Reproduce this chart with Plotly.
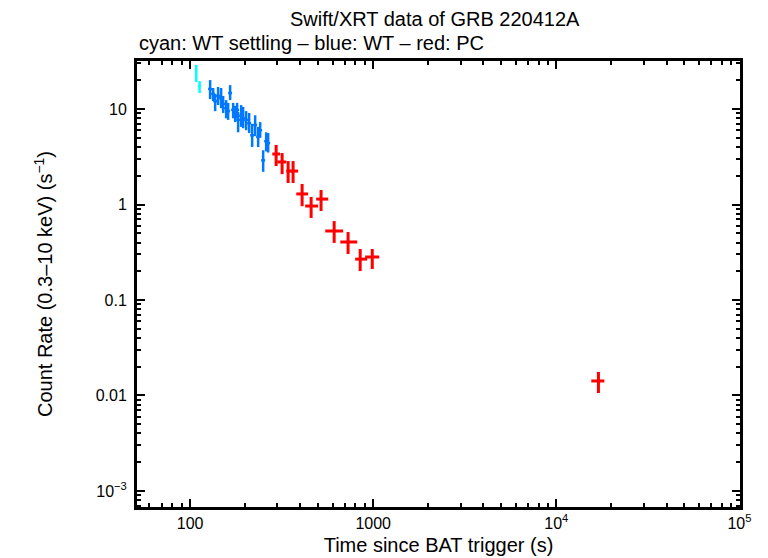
import plotly.graph_objects as go

# cyan: WT settling
wts_t = [108.0, 112.7]
wts_tlo = [106.5, 110.5]
wts_thi = [109.5, 114.8]
wts_r = [24.4, 17.4]
wts_rlo = [19.2, 14.7]
wts_rhi = [28.9, 19.6]

# blue: WT
wt_t = [128.6, 133.6, 137.0, 142.2, 147.7, 151.5, 157.3, 161.3, 165.4, 171.8, 176.2, 180.6,
        182.9, 190.0, 194.8, 202.3, 210.1, 218.2, 226.6, 235.3, 241.3, 250.6, 260.2, 266.8]
wt_r = [16.2, 14.4, 12.1, 13.7, 13.0, 11.3, 10.2, 9.5, 14.7, 9.8, 8.9, 9.8,
        7.7, 8.5, 8.0, 7.7, 7.1, 5.3, 6.8, 5.1, 6.0, 2.9, 4.6, 4.4]
wt_rlo = [12.7, 12.1, 9.5, 11.0, 10.2, 9.1, 8.0, 7.7, 12.4, 8.0, 7.3, 8.0,
          5.7, 6.5, 6.3, 6.0, 5.6, 4.0, 5.2, 4.0, 5.0, 2.2, 3.6, 3.5]
wt_rhi = [20.1, 16.6, 14.4, 17.0, 16.6, 13.7, 12.4, 11.6, 17.8, 11.6, 10.8, 11.6,
          9.3, 11.0, 10.5, 9.5, 9.1, 7.0, 8.6, 6.5, 7.3, 3.7, 5.7, 5.6]
wt_dt = 0.025  # fractional half-width of the time bins

# red: PC
pc_t = [295, 318, 343, 365, 409, 458, 519, 612, 729, 849, 988, 16980]
pc_tlo = [281, 299, 335, 352, 380, 425, 488, 547, 661, 797, 904, 15520]
pc_thi = [310, 335, 356, 389, 441, 500, 568, 685, 818, 927, 1079, 18290]
pc_r = [3.38, 2.79, 2.24, 2.24, 1.29, 0.964, 1.14, 0.528, 0.405, 0.268, 0.282, 0.01419]
pc_rlo = [2.53, 2.08, 1.68, 1.68, 0.96, 0.723, 0.855, 0.396, 0.303, 0.201, 0.211, 0.01062]
pc_rhi = [4.20, 3.46, 2.85, 2.85, 1.64, 1.20, 1.42, 0.671, 0.515, 0.342, 0.342, 0.01762]

x_ticks = [100, 1000, 1e4, 1e5]
x_text = ["100", "1000", "10<sup>4</sup>", "10<sup>5</sup>"]
y_ticks = [1e-3, 0.01, 0.1, 1, 10]
y_text = ["10<sup>\u22123</sup>", "0.01", "0.1", "1", "10"]


def err_trace(t, tlo, thi, r, rlo, rhi, color, thick):
    return go.Scatter(
        x=t, y=r, mode="markers", marker=dict(size=1, color=color),
        error_x=dict(type="data", symmetric=False,
                     array=[h - v for h, v in zip(thi, t)],
                     arrayminus=[v - l for v, l in zip(t, tlo)],
                     color=color, thickness=thick, width=0),
        error_y=dict(type="data", symmetric=False,
                     array=[h - v for h, v in zip(rhi, r)],
                     arrayminus=[v - l for v, l in zip(r, rlo)],
                     color=color, thickness=thick, width=0),
        showlegend=False, hoverinfo="x+y")


fig = go.Figure()
fig.add_trace(err_trace(wt_t, [v * (1 - wt_dt) for v in wt_t], [v * (1 + wt_dt) for v in wt_t],
                        wt_r, wt_rlo, wt_rhi, "rgb(0,120,255)", 2.5))
fig.add_trace(err_trace(wts_t, wts_tlo, wts_thi, wts_r, wts_rlo, wts_rhi, "rgb(0,255,255)", 2.5))
fig.add_trace(err_trace(pc_t, pc_tlo, pc_thi, pc_r, pc_rlo, pc_rhi, "rgb(255,0,0)", 3))

font_name = "Liberation Sans, Arial, sans-serif"
tick_font = dict(family=font_name, size=16, color="black")
minor_ticks = dict(ticks="inside", ticklen=4, tickwidth=2, tickcolor="black",
                   dtick="D1", showgrid=False)

fig.update_xaxes(type="log", range=[1.71, 5.003], tickvals=x_ticks, ticktext=x_text,
                 ticks="inside", ticklen=8, tickwidth=2, tickcolor="black", minor=minor_ticks,
                 showline=True, linewidth=3, linecolor="black", mirror="allticks",
                 showgrid=False, zeroline=False, tickfont=tick_font, automargin=False,
                 title=dict(text="Time since BAT trigger (s)", font=dict(size=20), standoff=7))
fig.update_yaxes(type="log", range=[-3.168, 1.503], tickvals=y_ticks, ticktext=y_text,
                 ticks="inside", ticklen=8, tickwidth=2, tickcolor="black", minor=minor_ticks,
                 showline=True, linewidth=3, linecolor="black", mirror="allticks",
                 showgrid=False, zeroline=False, tickfont=tick_font, ticklabelstandoff=4,
                 automargin=False,
                 title=dict(text="Count Rate (0.3\u201310 keV) (s<sup>\u22121</sup>)",
                            font=dict(size=20), standoff=38))

fig.add_annotation(text="Swift/XRT data of GRB 220412A", xref="paper", yref="paper",
                   x=0.25, y=1.0, yshift=42, yanchor="middle", showarrow=False,
                   xanchor="left", font=dict(size=20))
fig.add_annotation(text="cyan: WT settling \u2013 blue: WT \u2013 red: PC", xref="paper",
                   yref="paper", x=0.0, y=1.0, yshift=18, yanchor="middle", showarrow=False,
                   xanchor="left", font=dict(size=20))

# the page adds an 8px body margin, so the figure is shrunk by that much
fig.update_layout(width=760, height=550, margin=dict(l=129, r=28, t=53, b=51),
                  plot_bgcolor="white", paper_bgcolor="white",
                  font=dict(family=font_name, color="black"))

fig.write_html("out.html")
